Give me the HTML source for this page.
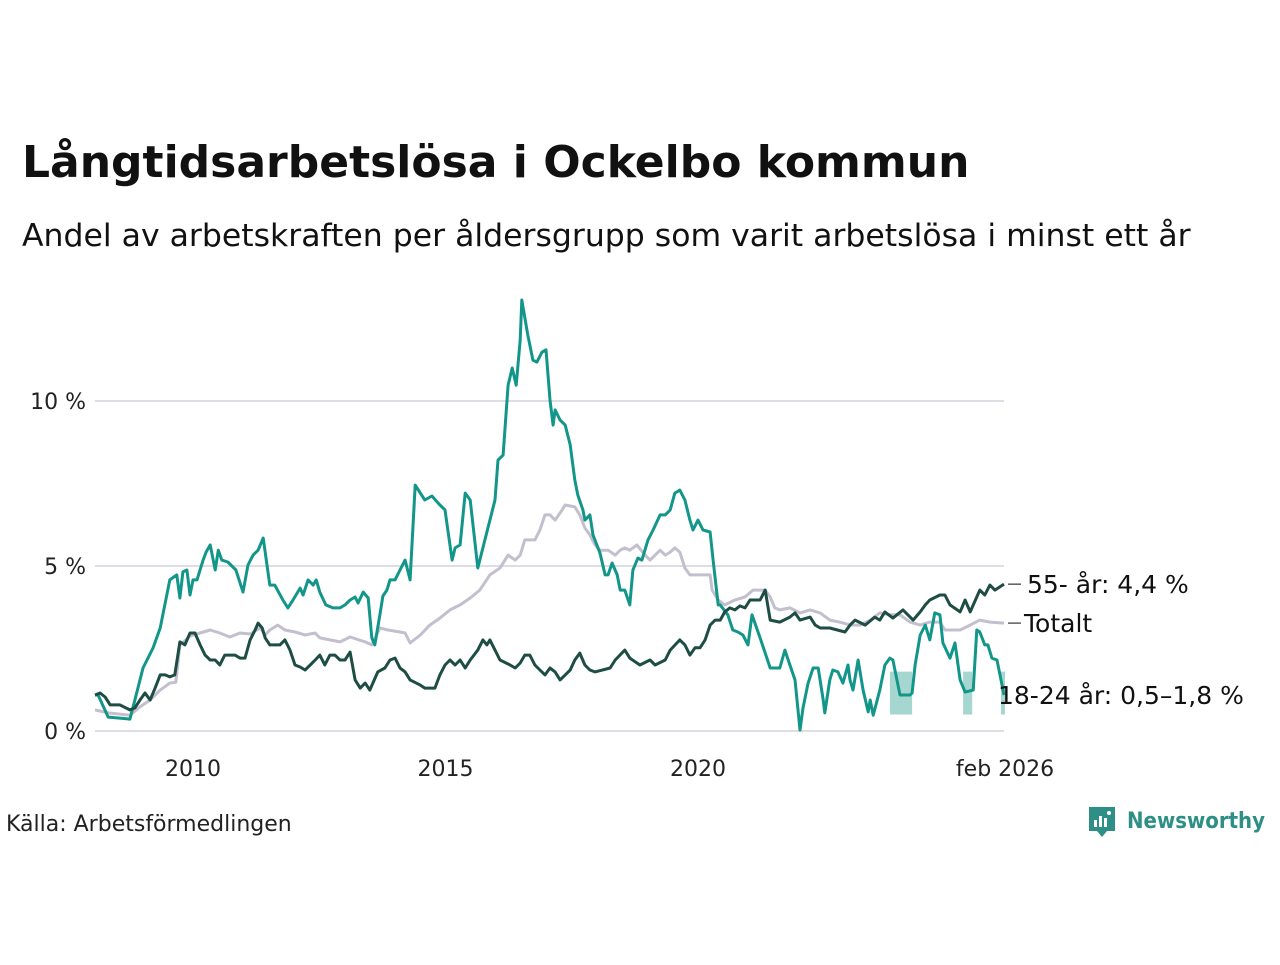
<!DOCTYPE html>
<html><head><meta charset="utf-8">
<style>
body{margin:0;background:#fff;width:1280px;height:960px;overflow:hidden;font-family:"Liberation Sans","DejaVu Sans",sans-serif;}
svg text{font-family:"DejaVu Sans","Liberation Sans",sans-serif;}
</style></head><body>
<svg id="chart" width="1280" height="960" xmlns="http://www.w3.org/2000/svg">
<text x="22" y="177" font-size="44" font-weight="bold" fill="#111">Långtidsarbetslösa i Ockelbo kommun</text>
<text x="22" y="246" font-size="31.5" fill="#111">Andel av arbetskraften per åldersgrupp som varit arbetslösa i minst ett år</text>
<g id="grid"></g>
<g id="bands"></g>
<g id="lines"></g>
<g id="labels"></g>
<text x="6" y="831" font-size="22" fill="#222">Källa: Arbetsförmedlingen</text>
<g>
<path d="M1089 807 h26 v24 h-8 l-5 6 l-5 -6 h-8 z" fill="#2e8f86"/>
<rect x="1094" y="820" width="3" height="7" fill="#fff"/><rect x="1099" y="816" width="3" height="11" fill="#fff"/><rect x="1104" y="818" width="3" height="9" fill="#fff"/><circle cx="1109" cy="813" r="2" fill="#fff"/>
<text x="1127" y="828" font-size="22" font-weight="bold" fill="#2e8f86" textLength="138" lengthAdjust="spacingAndGlyphs">Newsworthy</text>
</g>
</svg>
<script>
const yTicks=[0,5,10];
const yTickLabels=["0 %","5 %","10 %"];
const xTicks=[2010,2015,2020,2026.08];
const xTickLabels=["2010","2015","2020","feb 2026"];
const youthDates=[2008.06,2008.12,2008.32,2008.75,2008.85,2009.01,2009.21,2009.35,2009.54,2009.68,2009.74,2009.80,2009.88,2009.94,2010.00,2010.08,2010.20,2010.26,2010.34,2010.44,2010.50,2010.57,2010.69,2010.85,2010.99,2011.09,2011.19,2011.29,2011.39,2011.52,2011.62,2011.78,2011.88,2011.98,2012.12,2012.18,2012.28,2012.38,2012.44,2012.51,2012.63,2012.77,2012.91,2013.01,2013.11,2013.21,2013.27,2013.37,2013.47,2013.54,2013.60,2013.70,2013.76,2013.84,2013.90,2014.00,2014.10,2014.20,2014.30,2014.40,2014.50,2014.59,2014.73,2014.89,2014.99,2015.13,2015.19,2015.29,2015.39,2015.49,2015.64,2015.78,2015.88,2015.98,2016.04,2016.14,2016.24,2016.32,2016.40,2016.48,2016.51,2016.63,2016.73,2016.81,2016.91,2016.99,2017.07,2017.13,2017.17,2017.27,2017.37,2017.47,2017.56,2017.62,2017.72,2017.76,2017.86,2017.92,2018.06,2018.16,2018.22,2018.30,2018.40,2018.46,2018.55,2018.65,2018.71,2018.81,2018.89,2019.01,2019.11,2019.25,2019.35,2019.45,2019.54,2019.64,2019.74,2019.84,2019.90,2020.00,2020.10,2020.24,2020.30,2020.40,2020.44,2020.59,2020.69,2020.79,2020.89,2020.99,2021.07,2021.23,2021.43,2021.62,2021.72,2021.82,2021.92,2022.02,2022.08,2022.18,2022.28,2022.38,2022.48,2022.51,2022.61,2022.67,2022.77,2022.87,2022.97,2023.01,2023.07,2023.17,2023.27,2023.37,2023.41,2023.47,2023.60,2023.70,2023.80,2023.86,2024.00,2024.20,2024.24,2024.30,2024.40,2024.50,2024.59,2024.69,2024.79,2024.85,2024.99,2025.09,2025.19,2025.29,2025.45,2025.52,2025.58,2025.68,2025.74,2025.82,2025.92,2026.06];
const youthValues=[1.09,1.09,0.42,0.36,0.94,1.91,2.52,3.12,4.58,4.73,4.03,4.82,4.88,4.12,4.58,4.58,5.18,5.42,5.64,4.88,5.48,5.18,5.12,4.88,4.21,5.03,5.33,5.48,5.85,4.42,4.42,3.97,3.73,3.97,4.33,4.12,4.58,4.42,4.58,4.21,3.82,3.73,3.73,3.82,3.97,4.06,3.88,4.21,4.03,2.82,2.61,3.52,4.09,4.27,4.58,4.58,4.88,5.18,4.58,7.45,7.21,7.00,7.12,6.85,6.70,5.18,5.55,5.64,7.21,7.00,4.94,5.79,6.39,7.00,8.21,8.36,10.48,11.00,10.48,11.85,13.06,12.00,11.24,11.18,11.48,11.55,10.03,9.27,9.73,9.42,9.27,8.67,7.61,7.15,6.70,6.39,6.55,5.94,5.39,4.73,4.73,5.09,4.73,4.27,4.27,3.82,4.88,5.24,5.18,5.79,6.09,6.55,6.55,6.70,7.21,7.30,7.00,6.39,6.09,6.39,6.09,6.03,5.18,3.82,3.82,3.52,3.06,3.00,2.91,2.61,3.52,2.82,1.91,1.91,2.45,2.00,1.55,0.03,0.70,1.45,1.91,1.91,0.94,0.55,1.55,1.85,1.79,1.45,2.00,1.55,1.24,2.15,1.24,0.58,0.94,0.48,1.24,2.00,2.21,2.15,1.09,1.09,1.15,2.00,2.91,3.21,2.76,3.58,3.52,2.67,2.21,2.67,1.55,1.18,1.24,3.06,3.00,2.61,2.61,2.21,2.15,1.09];
const totalDates=[2008.06,2008.32,2008.75,2008.95,2009.15,2009.35,2009.54,2009.66,2009.74,2009.94,2010.14,2010.34,2010.53,2010.73,2010.93,2011.13,2011.33,2011.43,2011.52,2011.68,2011.82,2012.02,2012.22,2012.42,2012.51,2012.71,2012.91,2013.11,2013.41,2013.54,2013.70,2013.86,2014.10,2014.20,2014.30,2014.50,2014.69,2014.89,2015.09,2015.29,2015.49,2015.68,2015.88,2016.08,2016.24,2016.38,2016.48,2016.57,2016.77,2016.87,2016.97,2017.07,2017.17,2017.27,2017.37,2017.56,2017.66,2017.76,2017.86,2017.96,2018.06,2018.22,2018.36,2018.46,2018.55,2018.65,2018.79,2018.95,2019.05,2019.15,2019.25,2019.35,2019.45,2019.54,2019.64,2019.74,2019.84,2020.24,2020.28,2020.40,2020.53,2020.73,2020.93,2021.09,2021.33,2021.43,2021.52,2021.62,2021.82,2022.02,2022.22,2022.42,2022.61,2022.81,2023.01,2023.21,2023.41,2023.60,2023.80,2024.00,2024.20,2024.40,2024.59,2024.79,2024.89,2025.19,2025.39,2025.58,2025.78,2026.06];
const totalValues=[0.64,0.55,0.48,0.73,0.94,1.24,1.45,1.48,2.61,2.88,2.97,3.06,2.97,2.85,2.97,2.94,3.12,2.91,3.06,3.21,3.06,3.00,2.91,2.97,2.82,2.76,2.70,2.85,2.70,2.61,3.12,3.06,3.00,2.97,2.67,2.91,3.21,3.42,3.67,3.82,4.03,4.27,4.73,4.94,5.33,5.18,5.33,5.79,5.79,6.09,6.55,6.55,6.39,6.61,6.85,6.79,6.55,6.15,5.94,5.64,5.48,5.48,5.33,5.48,5.55,5.48,5.64,5.33,5.18,5.33,5.48,5.33,5.42,5.55,5.42,4.94,4.73,4.73,4.27,3.97,3.82,3.97,4.06,4.27,4.27,4.06,3.73,3.67,3.73,3.58,3.67,3.58,3.36,3.30,3.21,3.21,3.36,3.58,3.52,3.52,3.30,3.21,3.30,3.30,3.06,3.06,3.21,3.36,3.30,3.27];
const olderDates=[2008.06,2008.16,2008.26,2008.36,2008.55,2008.75,2008.85,2008.95,2009.05,2009.15,2009.25,2009.35,2009.45,2009.54,2009.64,2009.74,2009.84,2009.94,2010.04,2010.14,2010.24,2010.34,2010.44,2010.53,2010.63,2010.83,2010.93,2011.03,2011.13,2011.23,2011.29,2011.37,2011.43,2011.52,2011.72,2011.82,2011.92,2012.02,2012.12,2012.22,2012.32,2012.42,2012.51,2012.61,2012.71,2012.81,2012.91,2013.01,2013.11,2013.21,2013.31,2013.41,2013.50,2013.66,2013.80,2013.90,2014.00,2014.10,2014.20,2014.30,2014.50,2014.59,2014.79,2014.89,2014.99,2015.09,2015.19,2015.29,2015.39,2015.49,2015.64,2015.74,2015.82,2015.88,2015.98,2016.08,2016.28,2016.38,2016.48,2016.57,2016.67,2016.77,2016.87,2016.97,2017.07,2017.17,2017.27,2017.37,2017.47,2017.56,2017.66,2017.76,2017.86,2017.96,2018.26,2018.36,2018.55,2018.65,2018.85,2019.05,2019.15,2019.35,2019.45,2019.64,2019.74,2019.84,2019.94,2020.04,2020.14,2020.24,2020.34,2020.44,2020.53,2020.63,2020.73,2020.83,2020.93,2021.03,2021.23,2021.33,2021.43,2021.62,2021.82,2021.92,2022.02,2022.22,2022.32,2022.42,2022.61,2022.91,2023.01,2023.11,2023.31,2023.50,2023.60,2023.70,2023.86,2024.06,2024.26,2024.40,2024.50,2024.59,2024.79,2024.89,2024.99,2025.19,2025.29,2025.39,2025.58,2025.68,2025.78,2025.88,2026.06];
const olderValues=[1.09,1.15,1.03,0.79,0.79,0.64,0.70,0.94,1.15,0.94,1.30,1.70,1.70,1.64,1.70,2.70,2.61,2.97,2.97,2.61,2.30,2.15,2.15,2.00,2.30,2.30,2.21,2.21,2.76,3.06,3.27,3.12,2.82,2.61,2.61,2.76,2.45,2.00,1.94,1.85,2.00,2.15,2.30,2.00,2.30,2.30,2.15,2.15,2.39,1.55,1.30,1.45,1.24,1.79,1.91,2.15,2.21,1.91,1.79,1.55,1.39,1.30,1.30,1.70,2.00,2.15,2.00,2.15,1.91,2.15,2.45,2.76,2.61,2.76,2.45,2.15,2.00,1.91,2.06,2.30,2.30,2.00,1.85,1.70,1.91,1.79,1.55,1.70,1.85,2.15,2.36,2.00,1.85,1.79,1.91,2.15,2.45,2.21,2.00,2.15,2.00,2.15,2.45,2.76,2.61,2.30,2.52,2.52,2.76,3.21,3.36,3.36,3.61,3.73,3.67,3.79,3.73,3.97,3.97,4.27,3.36,3.30,3.45,3.58,3.36,3.45,3.21,3.12,3.12,3.00,3.21,3.36,3.21,3.45,3.36,3.61,3.42,3.67,3.36,3.61,3.82,3.97,4.12,4.12,3.82,3.61,3.97,3.61,4.27,4.12,4.42,4.27,4.45];
const bandStart=[2023.80,2025.25,2026.00];
const bandEnd=[2024.24,2025.43,2026.08];
const bandLow=[0.5,0.5,0.5];
const bandHigh=[1.8,1.8,1.8];

const NS="http://www.w3.org/2000/svg";
function X(t){return 193+(t-2010)*50.5;}
function Y(v){return 731-v*33;}
function mk(tag,attrs,parent){const e=document.createElementNS(NS,tag);for(const k in attrs)e.setAttribute(k,attrs[k]);parent.appendChild(e);return e;}
const grid=document.getElementById('grid');
yTicks.forEach((v,i)=>{
  const l=mk('line',{x1:95,x2:1004,y1:Y(v),y2:Y(v),stroke:'#dedde3','stroke-width':2},grid);
  
  
  const t=mk('text',{x:86,y:Y(v)+8,'font-size':22,'text-anchor':'end',fill:'#222'},grid);
  t.textContent=yTickLabels[i];
  
  
});
xTicks.forEach((v,i)=>{
  const t=mk('text',{x:X(v),y:776,'font-size':22,'text-anchor':'middle',fill:'#222'},grid);
  t.textContent=xTickLabels[i];
  
  
});
const bands=document.getElementById('bands');
bandStart.forEach((s,i)=>{
  const r=mk('rect',{x:X(s),y:Y(bandHigh[i]),width:X(bandEnd[i])-X(s),height:Y(bandLow[i])-Y(bandHigh[i]),fill:'#a5d6cf'},bands);
  
  
});
const lines=document.getElementById('lines');
function draw(d,v,color,name){
  const p=mk('polyline',{points:d.map((t,i)=>X(t).toFixed(1)+','+Y(v[i]).toFixed(1)).join(' '),fill:'none',stroke:color,'stroke-width':3,'stroke-linejoin':'round'},lines);
  
  
}
draw(totalDates,totalValues,'#c3bfcf','line-totalt');
draw(youthDates,youthValues,'#13968a','line-18-24');
draw(olderDates,olderValues,'#1e4d44','line-55-plus');
const lab=document.getElementById('labels');
function endLabel(v,txt,x,name,dash){
  if(dash){const l=mk('line',{x1:1008,x2:1021,y1:Y(v),y2:Y(v),stroke:'#333','stroke-width':1.2},lab);
  
  }
  const t=mk('text',{x:x,y:Y(v)+9,'font-size':25,fill:'#111'},lab);
  t.textContent=txt;
  
  
}
endLabel(olderValues[olderValues.length-1],'55- år: 4,4 %',1027,'label-55-plus',true);
endLabel(totalValues[totalValues.length-1],'Totalt',1024,'label-totalt',true);
endLabel(youthValues[youthValues.length-1],'18-24 år: 0,5–1,8 %',998,'label-18-24',false);
</script>
</body></html>
